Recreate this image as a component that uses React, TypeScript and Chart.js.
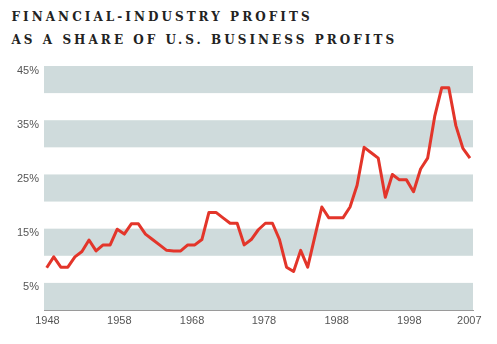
import React, { useEffect, useRef } from 'react';
import { Chart, registerables } from 'chart.js';

Chart.register(...registerables);

// ---- data ----
const years = [
  1947, 1948, 1949, 1950, 1951, 1952, 1953, 1954, 1955, 1956,
  1957, 1958, 1959, 1960, 1961, 1962, 1963, 1964, 1965, 1966,
  1967, 1968, 1969, 1970, 1971, 1972, 1973, 1974, 1975, 1976,
  1977, 1978, 1979, 1980, 1981, 1982, 1983, 1984, 1985, 1986,
  1987, 1988, 1989, 1990, 1991, 1992, 1993, 1994, 1995, 1996,
  1997, 1998, 1999, 2000, 2001, 2002, 2003, 2004, 2005, 2006,
  2007,
];
const shares = [
  7.8, 9.8, 7.9, 7.9, 9.8, 10.8, 12.9, 10.9, 12, 12,
  14.9, 14, 15.9, 15.9, 14, 13, 12, 11, 10.9, 10.9,
  12, 12, 13, 18, 18, 17, 16, 16, 12, 13,
  14.8, 16, 16, 13, 7.9, 7.1, 11, 7.9, 13.5, 19,
  17, 17, 17, 19, 23, 30, 29, 28, 20.8, 25,
  24, 24, 21.8, 26, 28, 35.7, 41, 41, 34, 29.8,
  28,
];
const yTickValues = [5, 15, 25, 35, 45];
const xTickLabels = ['1948', '1958', '1968', '1978', '1988', '1998', '2007'];
const bandRanges = [
  [0, 5],
  [10, 15],
  [20, 25],
  [30, 35],
  [40, 45],
];
const titleLines = ['FINANCIAL-INDUSTRY PROFITS', 'AS A SHARE OF U.S. BUSINESS PROFITS'];

// layout-only: where the designer placed the year labels along the axis
const xTickPositions = [1947.1, 1957.3, 1967.6, 1977.8, 1988.1, 1998.4, 2006.9];

const bandsPlugin = {
  id: 'bands',
  beforeDraw(chart: any) {
    const { ctx, chartArea, scales } = chart;
    const y = scales.y;
    ctx.save();
    ctx.fillStyle = '#cfdbdc';
    for (const [lo, hi] of bandRanges) {
      const top = y.getPixelForValue(hi);
      const bottom = y.getPixelForValue(lo);
      ctx.fillRect(chartArea.left, top, chartArea.right - chartArea.left, bottom - top);
    }
    ctx.restore();
  },
};

export default function App() {
  const canvasRef = useRef<HTMLCanvasElement | null>(null);

  useEffect(() => {
    const canvas = canvasRef.current;
    if (!canvas) return;
    const chart = new Chart(canvas, {
      type: 'line',
      data: {
        datasets: [
          {
            data: years.map((yr, i) => ({ x: yr, y: shares[i] })),
            borderColor: '#e3352a',
            borderWidth: 3,
            pointRadius: 0,
            tension: 0,
            fill: false,
            borderJoinStyle: 'round',
            borderCapStyle: 'butt',
          },
        ],
      },
      options: {
        animation: false,
        responsive: false,
        maintainAspectRatio: false,
        devicePixelRatio: 1,
        layout: { padding: { left: 0, top: 66, right: 24, bottom: 10 } },
        plugins: {
          legend: { display: false },
          title: { display: false },
          tooltip: { enabled: false },
        },
        scales: {
          x: {
            type: 'linear',
            min: 1946.62,
            max: 2007.43,
            z: 1,
            grid: { display: false, drawTicks: false },
            border: { display: true, color: '#9a9a9a', width: 1 },
            afterBuildTicks: (scale: any) => {
              scale.ticks = xTickPositions.map((v) => ({ value: v }));
            },
            afterFit: (scale: any) => {
              scale.height = 24;
            },
            ticks: {
              autoSkip: false,
              maxRotation: 0,
              padding: 4,
              color: '#555',
              font: { family: 'Liberation Sans, Arial, sans-serif', size: 11 },
              callback: (_v: any, i: number) => xTickLabels[i],
            },
          },
          y: {
            type: 'linear',
            min: 0,
            max: 45,
            grid: { display: false, drawTicks: false },
            border: { display: false },
            afterBuildTicks: (scale: any) => {
              scale.ticks = yTickValues.map((v) => ({ value: v }));
            },
            afterFit: (scale: any) => {
              scale.width = 44;
            },
            ticks: {
              padding: 5,
              labelOffset: 4.5,
              color: '#555',
              font: { family: 'Liberation Sans, Arial, sans-serif', size: 11 },
              callback: (v: any) => `${v}%`,
            },
          },
        },
      },
      plugins: [bandsPlugin],
    } as any);
    return () => chart.destroy();
  }, []);

  return (
    <div
      style={{
        position: 'fixed',
        left: 0,
        top: 0,
        width: 497,
        height: 344,
        background: '#fff',
        overflow: 'hidden',
      }}
    >
      <div
        style={{
          position: 'absolute',
          left: 11.5,
          top: 5.5,
          fontFamily: '"DejaVu Serif", serif',
          fontWeight: 700,
          fontSize: 12,
          lineHeight: '23px',
          letterSpacing: '3.05px',
          color: '#222',
          whiteSpace: 'nowrap',
        }}
      >
        {titleLines.map((t) => (
          <div key={t}>{t}</div>
        ))}
      </div>
      <canvas
        ref={canvasRef}
        width={497}
        height={344}
        style={{ position: 'absolute', left: 0, top: 0, width: 497, height: 344 }}
      />
    </div>
  );
}
